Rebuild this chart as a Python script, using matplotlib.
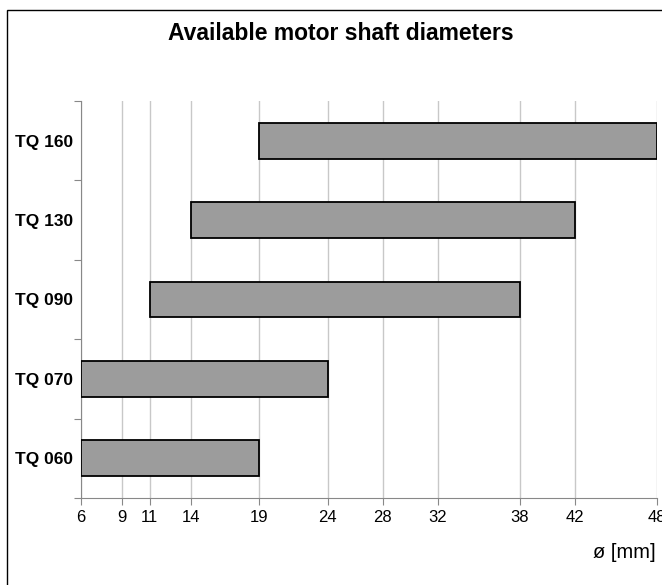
import matplotlib.pyplot as plt
from matplotlib.patches import Rectangle

plt.rcParams['font.family'] = ['Liberation Sans', 'DejaVu Sans']

# motor sizes, bottom to top
motors = ['TQ 060', 'TQ 070', 'TQ 090', 'TQ 130', 'TQ 160']
d_min = [6, 6, 11, 14, 19]
d_max = [19, 24, 38, 42, 48]
ticks = [6, 9, 11, 14, 19, 24, 28, 32, 38, 42, 48]

fig = plt.figure(figsize=(6.62, 5.85), dpi=100)
ax = fig.add_axes([81/662, 1-498/585, 576/662, 397/585])

widths = [b - a for a, b in zip(d_min, d_max)]
ax.barh(range(len(motors)), widths, left=d_min, height=0.45,
        color='#9c9c9c', edgecolor='black', linewidth=1.3, zorder=3)

ax.set_xlim(6, 48)
ax.set_ylim(-0.5, len(motors) - 0.5)
ax.set_xticks(ticks)
ax.set_xticklabels([str(t) for t in ticks], fontsize=12)
ax.grid(axis='x', color='#c8c8c8', linewidth=1, zorder=0)

# category labels sit between the tick marks
ax.set_yticks([i - 0.5 for i in range(len(motors) + 1)])
ax.set_yticklabels([])
ax.set_yticks(range(len(motors)), minor=True)
ax.set_yticklabels(motors, minor=True, fontsize=12.5, fontweight='bold')
ax.tick_params(axis='y', which='minor', length=0, pad=6)
ax.tick_params(axis='y', which='major', length=5, color='#888888')
ax.tick_params(axis='x', length=5, color='#888888', pad=4)

for s in ['top', 'right']:
    ax.spines[s].set_visible(False)
for s in ['left', 'bottom']:
    ax.spines[s].set_color('#888888')

fig.text(341/662, 1-33/585, 'Available motor shaft diameters', ha='center',
         va='center', fontsize=16.5, fontweight='bold')
fig.text(593/662, 1-552/585, 'ø [mm]', ha='left', va='center', fontsize=14.5)

# outer frame
fig.patches.append(Rectangle((7/662, -0.1), 1.2, 1 - 10/585 + 0.1,
                             transform=fig.transFigure, fill=False,
                             edgecolor='black', linewidth=1))

fig.savefig('out.png', dpi=100)
